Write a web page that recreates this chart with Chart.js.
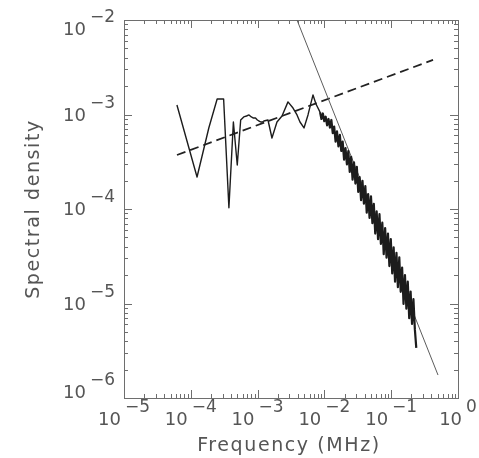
<!DOCTYPE html>
<html>
<head>
<meta charset="utf-8">
<script src="https://cdn.jsdelivr.net/npm/chart.js@4.4.0/dist/chart.umd.min.js"></script>
<style>
  html, body { margin: 0; padding: 0; background: #fff; }
  #wrap { width: 479px; height: 458px; position: relative; }
</style>
</head>
<body>
<div id="wrap"><canvas id="psd"></canvas></div>
<script>
// spectrum, frequency in MHz
var specFreq = [
  6.2e-5, 1.24e-4, 1.86e-4, 2.48e-4, 3.10e-4, 3.72e-4, 4.34e-4, 4.96e-4, 5.58e-4, 6.20e-4,
  6.82e-4, 7.44e-4, 8.06e-4, 8.68e-4, 9.30e-4, 9.92e-4, 1.054e-3, 1.116e-3, 1.178e-3, 1.24e-3,
  1.43e-3, 1.64e-3, 1.95e-3, 2.32e-3, 2.85e-3, 3.39e-3, 3.89e-3, 4.31e-3, 4.95e-3, 5.68e-3,
  6.75e-3, 7.48e-3,
  0.0086, 0.00903, 0.00948, 0.00996, 0.01045, 0.01098, 0.01152, 0.01210, 0.01271, 0.01334,
  0.01401, 0.01471, 0.01544, 0.01622, 0.01703, 0.01788, 0.01877, 0.01971, 0.02070, 0.02173,
  0.02282, 0.02396, 0.02516, 0.02642, 0.02774, 0.02912, 0.03058, 0.03211, 0.03371, 0.03540,
  0.03717, 0.03903, 0.04098, 0.04303, 0.04518, 0.04744, 0.04981, 0.05230, 0.05492, 0.05766,
  0.06055, 0.06357, 0.06675, 0.07009, 0.07360, 0.07728, 0.08114, 0.08520, 0.08946, 0.09393,
  0.09863, 0.1036, 0.1088, 0.1142, 0.1199, 0.1259, 0.1322, 0.1388, 0.1457, 0.1530,
  0.1607, 0.1687, 0.1771, 0.1860, 0.1953, 0.2050, 0.2153, 0.2261, 0.2374
];
var specDensity = [
  1.26e-3, 2.18e-4, 7.2e-4, 1.46e-3, 1.46e-3, 1.03e-4, 8.33e-4, 2.92e-4, 8.75e-4, 9.42e-4,
  9.64e-4, 9.89e-4, 9.42e-4, 9.18e-4, 9.18e-4, 8.75e-4, 8.53e-4, 8.33e-4, 8.33e-4, 8.53e-4,
  8.75e-4, 5.64e-4, 8.33e-4, 9.64e-4, 1.36e-3, 1.17e-3, 9.89e-4, 8.33e-4, 7.20e-4, 9.89e-4,
  1.61e-3, 1.29e-3,
  1.059e-3, 8.97e-4, 1.026e-3, 8.49e-4, 9.48e-4, 7.67e-4, 8.97e-4, 7.26e-4, 8.75e-4, 6.34e-4,
  7.45e-4, 5.16e-4, 6.65e-4, 4.61e-4, 6.08e-4, 4.11e-4, 5.16e-4, 3.33e-4, 4.40e-4, 2.96e-4,
  4.09e-4, 2.47e-4, 3.56e-4, 2.04e-4, 3.12e-4, 1.86e-4, 2.79e-4, 1.52e-4, 2.17e-4, 1.24e-4,
  1.99e-4, 1.14e-4, 1.75e-4, 9.14e-5, 1.44e-4, 8.05e-5, 1.36e-4, 7.08e-5, 1.135e-4, 5.50e-5,
  9.44e-5, 4.79e-5, 8.81e-5, 4.27e-5, 7.16e-5, 3.33e-5, 6.28e-5, 3.05e-5, 5.50e-5, 2.49e-5,
  4.81e-5, 2.08e-5, 3.93e-5, 1.70e-5, 3.44e-5, 1.49e-5, 3.08e-5, 1.33e-5, 2.40e-5, 9.91e-6,
  2.00e-5, 8.81e-6, 1.70e-5, 6.98e-6, 1.34e-5, 6.07e-6, 1.11e-5, 5.32e-6, 3.39e-6
];
// index where the densely sampled part of the spectrum begins
var bandStart = 32;

// power law fits (end points)
var steepFreq = [3.89e-3, 0.502];
var steepDensity = [1e-2, 1.75e-6];
var flatFreq = [6.21e-5, 0.423];
var flatDensity = [3.73e-4, 3.78e-3];

// decade exponents for the tick labels
var xDecades = [-5, -4, -3, -2, -1, 0];
var yDecades = [-6, -5, -4, -3, -2];

var axisColor = '#6e6e6e';
var textColor = '#555555';
var fontFam = '"DejaVu Sans", sans-serif';

function toPoints(xs, ys) {
  return xs.map(function(x, i) { return {x: x, y: ys[i]}; });
}

function expText(e) {
  return e < 0 ? '\u2212' + Math.abs(e) : String(e);
}

// frame + inward ticks on all four sides, superscript labels, titles
var idlAxes = {
  id: 'idlAxes',
  beforeDatasetsDraw: function(chart) {
    var ctx = chart.ctx, a = chart.chartArea;
    var xs = chart.scales.x, ys = chart.scales.y;
    ctx.save();
    ctx.strokeStyle = axisColor;
    ctx.lineWidth = 1;
    ctx.strokeRect(a.left + 0.5, a.top + 0.5, a.right - a.left, a.bottom - a.top);
    ctx.beginPath();
    var d, m, v, p, len;
    for (d = -5; d <= 0; d++) {
      for (m = 1; m <= 9; m++) {
        v = m * Math.pow(10, d);
        if (v > 1.0001) break;
        p = Math.round(xs.getPixelForValue(v)) + 0.5;
        len = m === 1 ? 8 : 4;
        ctx.moveTo(p, a.bottom); ctx.lineTo(p, a.bottom - len);
        ctx.moveTo(p, a.top); ctx.lineTo(p, a.top + len);
      }
    }
    for (d = -6; d <= -2; d++) {
      for (m = 1; m <= 9; m++) {
        v = m * Math.pow(10, d);
        if (v > 1.0001e-2) break;
        p = Math.round(ys.getPixelForValue(v)) + 0.5;
        len = m === 1 ? 8 : 4;
        ctx.moveTo(a.left, p); ctx.lineTo(a.left + len, p);
        ctx.moveTo(a.right, p); ctx.lineTo(a.right - len, p);
      }
    }
    ctx.stroke();
    ctx.restore();
  },
  afterDraw: function(chart) {
    var ctx = chart.ctx, a = chart.chartArea;
    var xs = chart.scales.x, ys = chart.scales.y;
    var baseFont = '18px ' + fontFam, supFont = '17px ' + fontFam;
    ctx.save();
    ctx.fillStyle = textColor;
    ctx.textBaseline = 'alphabetic';
    ctx.textAlign = 'left';

    xDecades.forEach(function(e) {
      var tx = xs.getPixelForValue(Math.pow(10, e));
      ctx.font = baseFont;
      var wb = ctx.measureText('10').width;
      ctx.font = supFont;
      var we = ctx.measureText(expText(e)).width;
      var x0 = tx - (wb + 4 + we) / 2;
      ctx.font = baseFont;
      ctx.fillText('10', x0, 425);
      ctx.font = supFont;
      ctx.fillText(expText(e), x0 + wb + 4, 412);
    });

    yDecades.forEach(function(e) {
      var ty = ys.getPixelForValue(Math.pow(10, e));
      var cy = Math.min(Math.max(ty, 29), 392) + 6;
      ctx.font = baseFont;
      var wb = ctx.measureText('10').width;
      ctx.font = supFont;
      var we = ctx.measureText(expText(e)).width;
      var x0 = 115 - (wb + 4 + we);
      ctx.font = baseFont;
      ctx.fillText('10', x0, cy);
      ctx.font = supFont;
      ctx.fillText(expText(e), x0 + wb + 4, cy - 13);
    });

    ctx.font = '19px ' + fontFam;
    ctx.letterSpacing = '1.6px';
    ctx.textAlign = 'center';
    ctx.fillText('Frequency (MHz)', (a.left + a.right) / 2 - 2, 451);
    ctx.translate(39, (a.top + a.bottom) / 2);
    ctx.rotate(-Math.PI / 2);
    ctx.fillText('Spectral density', 0, 0);
    ctx.restore();
  }
};

var ctx = document.getElementById('psd').getContext('2d');
new Chart(ctx, {
  type: 'scatter',
  data: {
    datasets: [
      {
        label: 'spectrum',
        data: toPoints(specFreq, specDensity),
        showLine: true,
        borderColor: '#1c1c1c',
        borderWidth: 1.4,
        borderJoinStyle: 'round',
        pointRadius: 0,
        tension: 0,
        segment: {
          // the dense high-frequency part prints as a solid band
          borderWidth: function(s) { return s.p0DataIndex >= bandStart ? 2.2 : 1.4; }
        }
      },
      {
        label: 'steep fit',
        data: toPoints(steepFreq, steepDensity),
        showLine: true,
        borderColor: '#5c5c5c',
        borderWidth: 1,
        pointRadius: 0
      },
      {
        label: 'flat fit',
        data: toPoints(flatFreq, flatDensity),
        showLine: true,
        borderColor: '#222222',
        borderWidth: 1.8,
        borderDash: [9, 5],
        pointRadius: 0
      }
    ]
  },
  options: {
    responsive: true,
    maintainAspectRatio: false,
    animation: false,
    layout: { padding: { left: 124, right: 21, top: 20, bottom: 60 } },
    plugins: { legend: { display: false }, tooltip: { enabled: false } },
    scales: {
      x: { type: 'logarithmic', min: 1e-5, max: 1, display: false },
      y: { type: 'logarithmic', min: 1e-6, max: 1e-2, display: false }
    }
  },
  plugins: [idlAxes]
});
</script>
</body>
</html>
